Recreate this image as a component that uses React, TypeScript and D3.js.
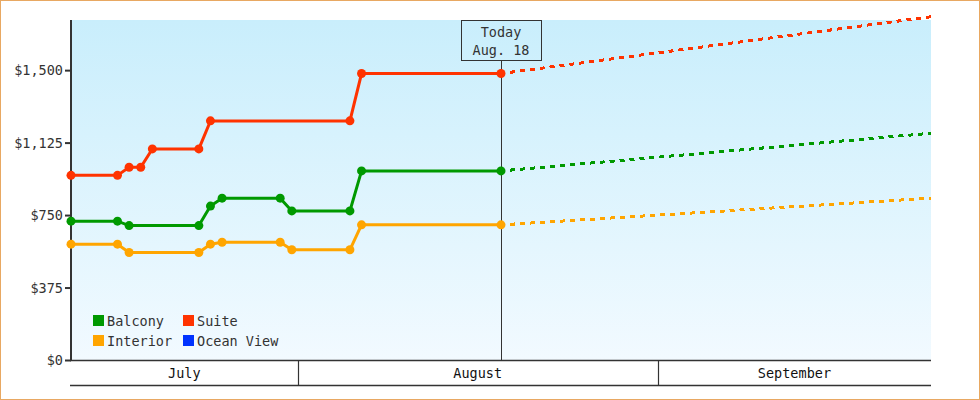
import React from "react";
import * as d3 from "d3";

// price history, one point per day (dates at noon)
const balconyDates = ["2013-07-12", "2013-07-16", "2013-07-17", "2013-07-23", "2013-07-24", "2013-07-25", "2013-07-30", "2013-07-31", "2013-08-05", "2013-08-06", "2013-08-18"];
const balconyPrices = [721, 721, 698, 698, 799, 840, 840, 774, 774, 981, 981];

const interiorDates = ["2013-07-12", "2013-07-16", "2013-07-17", "2013-07-23", "2013-07-24", "2013-07-25", "2013-07-30", "2013-07-31", "2013-08-05", "2013-08-06", "2013-08-18"];
const interiorPrices = [602, 602, 559, 559, 602, 612, 612, 573, 573, 702, 702];

const suiteDates = ["2013-07-12", "2013-07-16", "2013-07-17", "2013-07-18", "2013-07-19", "2013-07-23", "2013-07-24", "2013-08-05", "2013-08-06", "2013-08-18"];
const suitePrices = [958, 958, 1000, 1000, 1095, 1095, 1240, 1240, 1485, 1485];

// forecast from today to the end of the range
const forecastDates = ["2013-08-18", "2013-09-24"];
const balconyForecast = [981, 1176];
const interiorForecast = [702, 840];
const suiteForecast = [1485, 1779];

const legendNames = ["Balcony", "Suite", "Interior", "Ocean View"];
const legendColors = ["#009900", "#ff3300", "#ffa500", "#0033ff"];

const yTicks = [0, 375, 750, 1125, 1500];
const monthStarts = ["2013-07-01", "2013-08-01", "2013-09-01", "2013-10-01"];
const monthNames = ["July", "August", "September"];

const todayDate = "2013-08-18";
const todayLabel = ["Today", "Aug. 18"];

const W = 980;
const H = 400;
const left = 71;
const right = 931;
const top = 20;
const bottom = 360.5;
const font = "'DejaVu Sans Mono', monospace";

const noon = (s: string) => new Date(s + "T12:00:00");
const midnight = (s: string) => new Date(s + "T00:00:00");

type Pt = { date: Date; value: number };
const zip = (dates: string[], vals: number[]): Pt[] =>
  dates.map((d, i) => ({ date: noon(d), value: vals[i] }));

const series = [
  { name: "Interior", color: "#ffa500", hist: zip(interiorDates, interiorPrices), fc: zip(forecastDates, interiorForecast) },
  { name: "Balcony", color: "#009900", hist: zip(balconyDates, balconyPrices), fc: zip(forecastDates, balconyForecast) },
  { name: "Suite", color: "#ff3300", hist: zip(suiteDates, suitePrices), fc: zip(forecastDates, suiteForecast) },
];

export default function App() {
  const x = d3
    .scaleTime()
    .domain([noon("2013-07-12"), noon("2013-09-24")])
    .range([left, right]);
  const y = d3.scaleLinear().domain([0, 1762]).range([bottom, top]);

  const line = d3
    .line<Pt>()
    .x((d) => x(d.date))
    .y((d) => y(d.value));

  const [d0, d1] = x.domain();
  const months = monthNames.map((m, i) => {
    const a = midnight(monthStarts[i]);
    const b = midnight(monthStarts[i + 1]);
    const xa = x(a < d0 ? d0 : a);
    const xb = x(b > d1 ? d1 : b);
    return { name: m, xa, xb, start: a > d0 ? x(a) : null };
  });

  const tx = x(noon(todayDate));

  return (
    <div style={{ position: "absolute", left: 0, top: 0 }}>
      <svg width={W} height={H} style={{ display: "block" }}>
        <defs>
          <linearGradient id="bg" x1="0" y1="0" x2="0" y2="1">
            <stop offset="0%" stopColor="#c9eefc" />
            <stop offset="100%" stopColor="#f2faff" />
          </linearGradient>
        </defs>
        <rect x={0.5} y={0.5} width={W - 1} height={H - 1} fill="#fff" stroke="#e8a862" />
        <rect x={left} y={top} width={right - left} height={bottom - top} fill="url(#bg)" />

        {/* y axis */}
        <line x1={left} x2={left} y1={top} y2={bottom + 0.5} stroke="#333" strokeWidth={2} />
        {yTicks.map((t) => (
          <g key={t}>
            <line x1={left - 6} x2={left} y1={y(t)} y2={y(t)} stroke="#333" strokeWidth={2} />
            <text x={left - 8} y={y(t) + 4.5} textAnchor="end" fontFamily={font} fontSize={13.5} fill="#333">
              {d3.format("$,")(t)}
            </text>
          </g>
        ))}

        {/* month band */}
        <line x1={left - 1} x2={right} y1={bottom} y2={bottom} stroke="#333" strokeWidth={1.5} />
        <line x1={left - 1} x2={right} y1={385.5} y2={385.5} stroke="#333" strokeWidth={1.5} />
        {months.map((m) => (
          <g key={m.name}>
            {m.start !== null && (
              <line x1={Math.round(m.start) + 0.5} x2={Math.round(m.start) + 0.5} y1={bottom} y2={385.5} stroke="#333" strokeWidth={1.2} />
            )}
            <text x={(m.xa + m.xb) / 2} y={378} textAnchor="middle" fontFamily={font} fontSize={13.5} fill="#111">
              {m.name}
            </text>
          </g>
        ))}

        {/* today marker */}
        <line x1={Math.round(tx) + 0.5} x2={Math.round(tx) + 0.5} y1={60.5} y2={bottom} stroke="#333" strokeWidth={1} />
        <rect x={Math.round(tx) - 39.5} y={20.5} width={80} height={40} fill="none" stroke="#333" strokeWidth={1} />
        <text x={tx} y={37} textAnchor="middle" fontFamily={font} fontSize={13.5} fill="#333">
          {todayLabel[0]}
        </text>
        <text x={tx} y={55} textAnchor="middle" fontFamily={font} fontSize={13.5} fill="#333">
          {todayLabel[1]}
        </text>

        {/* series */}
        {series.map((s) => (
          <g key={s.name}>
            <path
              d={line(s.fc) || ""}
              fill="none"
              stroke={s.color}
              strokeWidth={3}
              strokeDasharray="5,5"
              strokeDashoffset={-9}
              shapeRendering="crispEdges"
            />
            <path d={line(s.hist) || ""} fill="none" stroke={s.color} strokeWidth={3} />
            {s.hist.map((p, i) => (
              <circle key={i} cx={x(p.date)} cy={y(p.value)} r={4.5} fill={s.color} />
            ))}
          </g>
        ))}

        {/* legend */}
        {legendNames.map((n, i) => {
          const lx = i % 2 === 0 ? 93 : 183;
          const ly = i < 2 ? 315 : 335;
          return (
            <g key={n}>
              <rect x={lx} y={ly} width={11} height={11} fill={legendColors[i]} />
              <text x={lx + 14} y={ly + 10.5} fontFamily={font} fontSize={13.5} fill="#333">
                {n}
              </text>
            </g>
          );
        })}
      </svg>
    </div>
  );
}
